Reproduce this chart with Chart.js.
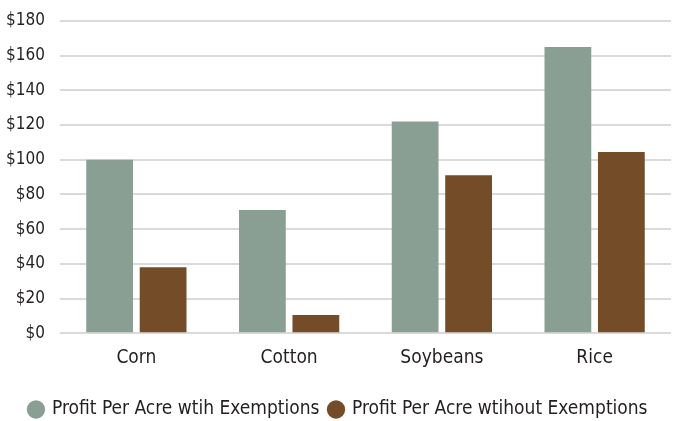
<!DOCTYPE html>
<html>
<head>
<meta charset="utf-8">
<script src="https://cdn.jsdelivr.net/npm/chart.js@4"></script>
<style>
  html, body { margin: 0; padding: 0; background: #fff; }
  #wrap { width: 677px; height: 421px; }
</style>
</head>
<body>
<div id="wrap"><canvas id="profitChart"></canvas></div>
<script>
const crops = ['Corn', 'Cotton', 'Soybeans', 'Rice'];
const withExemptions = [100, 71, 122, 165];
const withoutExemptions = [38, 10.5, 91, 104.5];
const yTicks = [0, 20, 40, 60, 80, 100, 120, 140, 160, 180];

const font = "'DejaVu Sans Condensed', 'Liberation Sans Narrow', sans-serif";

const ctx = document.getElementById('profitChart');
new Chart(ctx, {
  type: 'bar',
  data: {
    labels: crops,
    datasets: [{
      label: 'Profit Per Acre wtih Exemptions',
      data: withExemptions,
      backgroundColor: '#8a9f94',
      barPercentage: 0.875,
      categoryPercentage: 0.7
    }, {
      label: 'Profit Per Acre wtihout Exemptions',
      data: withoutExemptions,
      backgroundColor: '#744c28',
      barPercentage: 0.875,
      categoryPercentage: 0.7
    }]
  },
  options: {
    responsive: true,
    maintainAspectRatio: false,
    animation: false,
    layout: { padding: { top: 21, right: 6, left: 6, bottom: -8 } },
    plugins: {
      legend: {
        position: 'bottom',
        labels: {
          usePointStyle: true,
          pointStyle: 'circle',
          boxWidth: 13,
          boxHeight: 13,
          padding: 10,
          color: '#231f20',
          font: { family: font, size: 19 }
        }
      },
      tooltip: { enabled: false }
    },
    scales: {
      x: {
        afterFit: axis => { axis.height += 16; },
        grid: { display: false },
        border: { display: false },
        ticks: { color: '#231f20', font: { family: font, size: 19 }, padding: 5 }
      },
      y: {
        min: 0,
        max: 180,
        afterBuildTicks: axis => { axis.ticks = yTicks.map(v => ({ value: v })); },
        afterFit: axis => { axis.width = 54; axis.paddingTop = 0; },
        grid: { color: '#dadada', lineWidth: 2, drawTicks: false },
        border: { display: false },
        ticks: {
          color: '#231f20',
          padding: 15,
          font: { family: font, size: 17 },
          callback: v => '$' + v
        }
      }
    }
  }
});
</script>
</body>
</html>
